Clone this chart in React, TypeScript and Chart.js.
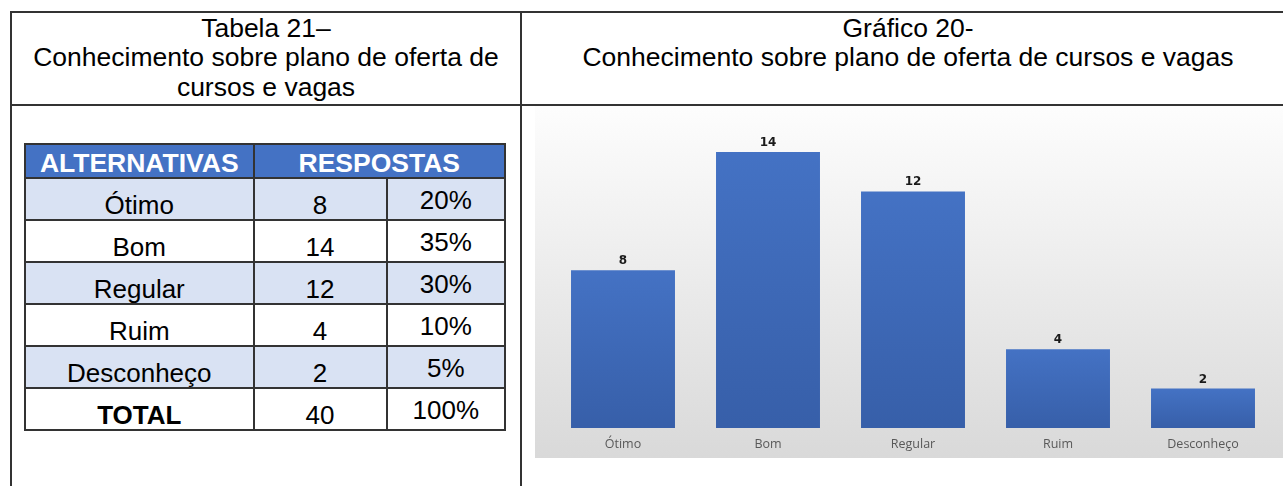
import React, { useEffect, useRef } from "react";
import { Chart, registerables } from "chart.js";

Chart.register(...registerables);

// ---- data ----
const categories: string[] = ["Ótimo", "Bom", "Regular", "Ruim", "Desconheço"];
const counts: number[] = [8, 14, 12, 4, 2];
const percents: string[] = ["20%", "35%", "30%", "10%", "5%"];
const totalCount = 40;
const totalPercent = "100%";
const tableTitle: string[] = ["Tabela 21–", "Conhecimento sobre plano de oferta de", "cursos e vagas"];
const chartTitle: string[] = ["Gráfico 20-", "Conhecimento sobre plano de oferta de cursos e vagas"];
const headerCols: string[] = ["ALTERNATIVAS", "RESPOSTAS"];

const FONT = "'Liberation Sans', Arial, sans-serif";
const LINE = "#333";

function BarChart() {
  const ref = useRef<HTMLCanvasElement | null>(null);
  useEffect(() => {
    if (!ref.current) return;
    const bgPlugin = {
      id: "bgGrad",
      beforeDraw(chart: any) {
        const { ctx, width, height } = chart;
        const g = ctx.createLinearGradient(0, 0, 0, height);
        g.addColorStop(0, "#fdfdfd");
        g.addColorStop(1, "#d9d9d9");
        ctx.save();
        ctx.fillStyle = g;
        ctx.fillRect(0, 0, width, height);
        ctx.restore();
      },
    };
    const labelPlugin = {
      id: "valueLabels",
      afterDatasetsDraw(chart: any) {
        const { ctx } = chart;
        const meta = chart.getDatasetMeta(0);
        ctx.save();
        ctx.font = "bold 12px 'DejaVu Sans', sans-serif";
        ctx.fillStyle = "#1a1a1a";
        ctx.textAlign = "center";
        ctx.textBaseline = "alphabetic";
        meta.data.forEach((bar: any, i: number) => {
          ctx.fillText(String(chart.data.datasets[0].data[i]), bar.x, bar.y - 6);
        });
        ctx.restore();
      },
    };
    const chart = new Chart(ref.current, {
      type: "bar",
      data: {
        labels: categories,
        datasets: [
          {
            data: counts,
            backgroundColor: (c: any) => {
              const ch = c.chart;
              const area = ch.chartArea;
              if (!area || c.raw == null) return "#4472c4";
              const y = ch.scales.y.getPixelForValue(c.raw);
              const g = ch.ctx.createLinearGradient(0, y, 0, area.bottom);
              g.addColorStop(0, "#4472c4");
              g.addColorStop(1, "#375fa9");
              return g;
            },
            borderWidth: 0,
            categoryPercentage: 1,
            barPercentage: 0.717,
          },
        ],
      },
      options: {
        animation: false,
        responsive: false,
        maintainAspectRatio: false,
        layout: { padding: { top: 46, left: 15.5, right: 7.5, bottom: 0 } },
        plugins: { legend: { display: false }, tooltip: { enabled: false }, title: { display: false } },
        scales: {
          x: {
            grid: { display: false },
            border: { display: false },
            ticks: {
              color: "#595959",
              padding: 1,
              font: { family: "'Open Sans', sans-serif", size: 12.5 },
            },
            afterFit: (s: any) => {
              s.height = 30;
            },
          },
          y: { display: false, min: 0, max: 14 },
        },
      },
      plugins: [bgPlugin, labelPlugin],
    });
    return () => chart.destroy();
  }, []);
  return (
    <canvas
      ref={ref}
      width={748}
      height={352}
      style={{ position: "absolute", left: 535, top: 106, width: 748, height: 352 }}
    />
  );
}

export default function App() {
  const colW = [228.5, 133, 118.5];
  const cellBorder = `2px solid ${LINE}`;
  const rowBg = (i: number) => (i % 2 === 0 ? "#d9e2f3" : "#ffffff");
  const cell = (extra: React.CSSProperties): React.CSSProperties => ({
    border: cellBorder,
    padding: 0,
    textAlign: "center",
    verticalAlign: "top",
    fontSize: 26,
    lineHeight: "26px",
    color: "#000",
    ...extra,
  });
  const head: React.CSSProperties = {
    background: "#4472c4",
    color: "#fff",
    fontWeight: "bold",
    fontSize: 26.5,
    lineHeight: "26px",
    paddingTop: 5,
  };
  return (
    <div
      style={{
        position: "fixed",
        left: 0,
        top: 0,
        width: 1283,
        height: 486,
        overflow: "hidden",
        background: "#fff",
        fontFamily: FONT,
      }}
    >
      {/* outer document table frame */}
      <div
        style={{
          position: "absolute",
          left: 10,
          top: 11,
          width: 1285,
          height: 520,
          border: `2px solid ${LINE}`,
          boxSizing: "border-box",
        }}
      />
      <div style={{ position: "absolute", left: 10, top: 104, width: 1285, height: 2, background: LINE }} />
      <div style={{ position: "absolute", left: 520, top: 11, width: 2, height: 520, background: LINE }} />

      {/* titles */}
      <div
        style={{
          position: "absolute",
          left: 12,
          top: 13.5,
          width: 508,
          textAlign: "center",
          fontSize: 26.5,
          lineHeight: "29.5px",
          color: "#000",
        }}
      >
        {tableTitle.map((t, i) => (
          <div key={i}>{t}</div>
        ))}
      </div>
      <div
        style={{
          position: "absolute",
          left: 522,
          top: 13.5,
          width: 772,
          textAlign: "center",
          fontSize: 26.5,
          lineHeight: "29.5px",
          color: "#000",
        }}
      >
        {chartTitle.map((t, i) => (
          <div key={i}>{t}</div>
        ))}
      </div>

      {/* data table */}
      <table
        style={{
          position: "absolute",
          left: 24,
          top: 143,
          borderCollapse: "collapse",
          tableLayout: "fixed",
          width: colW[0] + colW[1] + colW[2] + 2,
        }}
      >
        <colgroup>
          {colW.map((w, i) => (
            <col key={i} style={{ width: w }} />
          ))}
        </colgroup>
        <tbody>
          <tr style={{ height: 34 }}>
            <td style={cell(head)}>{headerCols[0]}</td>
            <td colSpan={2} style={cell(head)}>
              {headerCols[1]}
            </td>
          </tr>
          {categories.map((c, i) => (
            <tr key={c} style={{ height: 42 }}>
              <td style={cell({ background: rowBg(i), paddingTop: 13 })}>{c}</td>
              <td style={cell({ background: rowBg(i), paddingTop: 13 })}>{counts[i]}</td>
              <td style={cell({ background: rowBg(i), paddingTop: 8 })}>{percents[i]}</td>
            </tr>
          ))}
          <tr style={{ height: 42 }}>
            <td style={cell({ background: "#fff", paddingTop: 13, fontWeight: "bold" })}>TOTAL</td>
            <td style={cell({ background: "#fff", paddingTop: 13 })}>{totalCount}</td>
            <td style={cell({ background: "#fff", paddingTop: 8 })}>{totalPercent}</td>
          </tr>
        </tbody>
      </table>

      <BarChart />
    </div>
  );
}
